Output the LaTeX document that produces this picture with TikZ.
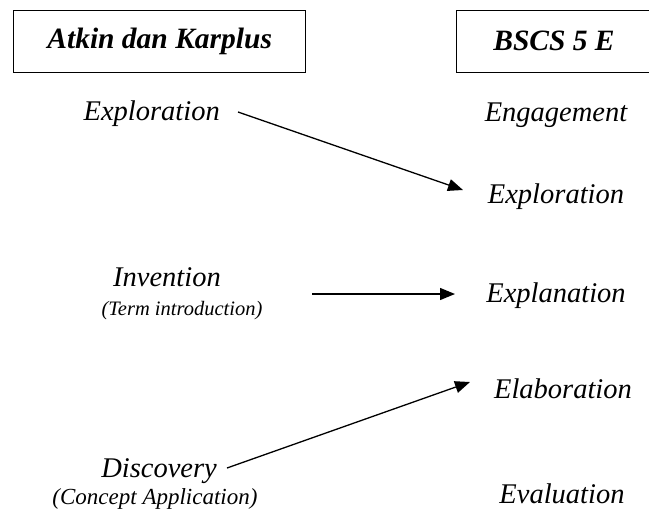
\documentclass[tikz,border=0pt]{standalone}
\usepackage{fontspec}
\setmainfont{Liberation Serif}
\usetikzlibrary{arrows.meta}
\begin{document}
\begin{tikzpicture}[x=1pt,y=-1pt,
  title/.style={font=\fontsize{29.5}{33}\selectfont\bfseries\itshape},
  lbl/.style={font=\fontsize{28.5}{32}\selectfont\itshape, inner sep=0pt},
  subA/.style={font=\fontsize{20.5}{24}\selectfont\itshape, inner sep=0pt},
  subB/.style={font=\fontsize{23}{26}\selectfont\itshape, inner sep=0pt},
  arr/.style={-{Triangle[length=15pt,width=12pt]}, line width=1.3pt},
  boxst/.style={draw, line width=1.4pt}]
\useasboundingbox (0,0) rectangle (649,512);
\clip (0,0) rectangle (649,512);
% boxes
\node[boxst, minimum width=292pt, minimum height=62pt, anchor=north west] (b1) at (13,10) {};
\node[title] at (b1.center) {Atkin dan Karplus};
\node[boxst, minimum width=220pt, minimum height=62pt, anchor=north west] (b2) at (456,10) {};
\node[title] (t2) at (554,41) {BSCS 5 E};
% left
\node[lbl, anchor=base east] (lexp) at (220,120) {Exploration};
\node[lbl, anchor=base] (linv) at (167,286) {Invention};
\node[subA, anchor=base] (linvs) at (182,315) {(Term introduction)};
\node[lbl, anchor=base east] (ldis) at (217,477) {Discovery};
\node[subB, anchor=base] (ldiss) at (155,504) {(Concept Application)};
% right
\node[lbl, anchor=base] (reng) at (556,121) {Engagement};
\node[lbl, anchor=base] (rexp) at (556,203) {Exploration};
\node[lbl, anchor=base] (rexl) at (556,302) {Explanation};
\node[lbl, anchor=base] (rela) at (563,398) {Elaboration};
\node[lbl, anchor=base] (reva) at (562,503) {Evaluation};
% arrows
\coordinate (a1s) at (238,112);
\coordinate (a1e) at (463,190);
\coordinate (a2s) at (312,294);
\coordinate (a2e) at (455,294);
\coordinate (a3s) at (227,468);
\coordinate (a3e) at (470,382);
\draw[arr] (a1s) -- (a1e);
\draw[arr] (a2s) -- (a2e);
\draw[arr] (a3s) -- (a3e);
\end{tikzpicture}
\end{document}
